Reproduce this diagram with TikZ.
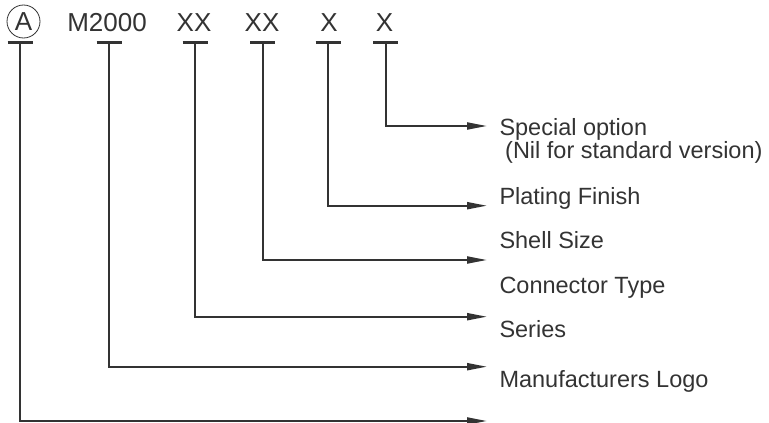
\documentclass[tikz,border=0pt]{standalone}
\usepackage{fontspec}
\setmainfont{Liberation Sans}
\usetikzlibrary{arrows.meta}
\definecolor{ink}{RGB}{51,51,51}
\begin{document}
\begin{tikzpicture}[x=1pt,y=-1pt,
  codetext/.style={font=\fontsize{26}{30}\selectfont, text=ink, inner sep=0pt, anchor=base},
  lbl/.style={font=\fontsize{23.5}{27}\selectfont, text=ink, inner sep=0pt, anchor=base west},
  tickbar/.style={draw=ink, line width=3.5pt},
  lead/.style={draw=ink, line width=2pt, -{Triangle[length=20pt,width=7pt]}}]
\useasboundingbox (0,0) rectangle (769,423);
% top row
\node[circle, draw=ink, line width=0.8pt, minimum size=33pt, inner sep=0pt,
      font=\fontsize{26}{30}\selectfont, text=ink] (cA) at (23.5,21.5) {A};
\node[codetext] (cM) at (107,31.7) {M2000};
\node[codetext] (cS) at (194,31.7) {XX};
\node[codetext] (cT) at (262,31.7) {XX};
\node[codetext] (cP) at (329,31.7) {X};
\node[codetext] (cO) at (384.5,31.7) {X};
% bar centres
\coordinate (bA) at (20,42.7);
\coordinate (bM) at (109,42.7);
\coordinate (bS) at (195,42.7);
\coordinate (bT) at (262.5,42.7);
\coordinate (bP) at (328,42.7);
\coordinate (bO) at (385.7,42.7);
\foreach \b in {bA,bM,bS,bT,bP,bO}{
  \draw[tickbar] (\b) ++(-12.5,0) -- ++(25,0);
}
% arrow ends
\coordinate (eO) at (487,126);
\coordinate (eP) at (487,205.7);
\coordinate (eT) at (487,260);
\coordinate (eS) at (487,316.7);
\coordinate (eM) at (487,366.7);
\coordinate (eA) at (487,421);
% labels
\node[lbl] (lO) at (499.3,135.5) {Special option};
\node[lbl] (lO2) at (505,158.3) {(Nil for standard version)};
\node[lbl] (lP) at (499.3,204) {Plating Finish};
\node[lbl] (lT) at (499.3,248.5) {Shell Size};
\node[lbl] (lC) at (499.3,293.3) {Connector Type};
\node[lbl] (lS) at (499.3,337.3) {Series};
\node[lbl] (lM) at (499.3,387.3) {Manufacturers Logo};
% leaders
\draw[lead] (bO) |- (eO);
\draw[lead] (bP) |- (eP);
\draw[lead] (bT) |- (eT);
\draw[lead] (bS) |- (eS);
\draw[lead] (bM) |- (eM);
\draw[lead] (bA) |- (eA);
\end{tikzpicture}
\end{document}
